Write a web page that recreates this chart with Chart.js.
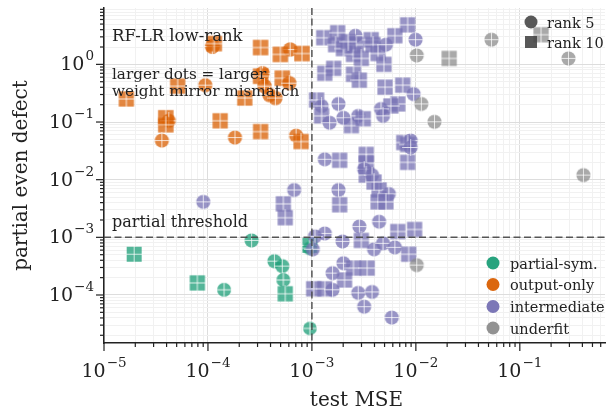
<!DOCTYPE html>
<html>
<head>
<meta charset="utf-8">
<script src="https://cdn.jsdelivr.net/npm/chart.js@4.4.1/dist/chart.umd.min.js"></script>
<style>
  html, body { margin: 0; padding: 0; background: #fff; }
  canvas { display: block; }
</style>
</head>
<body>
<canvas id="scatter-chart" width="613" height="413"></canvas>
<script>
// partial-sym.
const partialMse = [1.95e-5, 7.91e-5, 1.43e-4, 2.63e-4, 4.36e-4, 5.19e-4, 5.31e-4, 5.54e-4, 9.57e-4, 9.57e-4, 9.5e-4];
const partialDefect = [5.09e-4, 1.62e-4, 1.23e-4, 8.85e-4, 3.86e-4, 3.17e-4, 1.82e-4, 1.05e-4, 2.63e-5, 7.26e-4, 6.45e-4];
const partialRank = [10, 10, 5, 5, 5, 5, 5, 10, 5, 10, 5];
const partialMismatch = [0.4, 0.45, 0.4, 0.45, 0.45, 0.45, 0.4, 0.45, 0.35, 0.4, 0.35];

// output-only
const outputMse = [1.10e-4, 1.15e-4, 6.18e-4, 3.21e-4, 4.97e-4, 8.03e-4, 5.11e-5, 9.42e-5, 1.64e-5, 2.26e-4,
  3.35e-4, 3.21e-4, 3.50e-4, 5.19e-4, 6.05e-4, 3.91e-4, 4.45e-4, 3.93e-5, 4.20e-5, 3.93e-5,
  1.31e-4, 3.60e-5, 1.82e-4, 3.21e-4, 7.05e-4, 7.86e-4];
const outputDefect = [2.04, 2.29, 1.81, 1.96, 1.49, 1.54, 0.419, 0.436, 0.251, 0.261,
  0.701, 0.623, 0.419, 0.575, 0.472, 0.294, 0.261, 0.1186, 0.105, 0.0899,
  0.105, 0.0478, 0.0538, 0.0682, 0.0582, 0.0459];
const outputRank = [5, 10, 5, 10, 10, 10, 10, 5, 10, 10,
  5, 10, 5, 10, 5, 5, 5, 10, 5, 10,
  10, 5, 5, 10, 5, 10];
const outputMismatch = [0.6, 0.5, 0.5, 0.5, 0.5, 0.5, 0.45, 0.45, 0.45, 0.45,
  0.5, 0.5, 0.5, 0.5, 0.5, 0.5, 0.5, 0.5, 0.45, 0.5,
  0.45, 0.45, 0.45, 0.45, 0.45, 0.45];

// intermediate
const interMse = [1.30e-3, 1.77e-3, 1.69e-3, 2.01e-3, 2.62e-3, 2.67e-3, 2.51e-3, 2.99e-3, 3.72e-3, 3.88e-3,
  4.33e-3, 5.15e-3, 6.28e-3, 8.34e-3, 9.93e-3, 4.93e-3, 1.33e-3, 1.62e-3, 2.51e-3, 2.86e-3,
  5.05e-3, 7.48e-3, 9.51e-3, 6.70e-3, 5.75e-3, 4.62e-3, 1.11e-3, 1.24e-3, 1.80e-3, 1.24e-3,
  1.48e-3, 2.01e-3, 2.40e-3, 2.79e-3, 3.12e-3, 4.83e-3, 8.91e-3, 7.64e-3, 2.24e-3, 8.34e-3,
  8.34e-3, 8.91e-3, 1.33e-3, 1.85e-3, 3.33e-3, 3.33e-3, 3.18e-3, 3.33e-3, 3.79e-3, 4.43e-3,
  5.50e-3, 4.33e-3, 5.15e-3, 3.96e-3, 1.80e-3, 1.85e-3, 6.75e-4, 5.31e-4, 5.54e-4, 9.02e-5,
  2.86e-3, 4.43e-3, 6.70e-3, 9.73e-3, 1.33e-3, 1.07e-3, 1.97e-3, 2.99e-3, 3.96e-3, 4.83e-3,
  6.28e-3, 8.53e-3, 1.02e-3, 2.01e-3, 1.58e-3, 2.51e-3, 3.40e-3, 2.06e-3, 1.04e-3, 1.33e-3,
  1.58e-3, 2.79e-3, 3.79e-3, 3.18e-3, 5.87e-3];
const interDefect = [2.90, 3.54, 2.20, 1.88, 3.14, 2.20, 1.49, 1.27, 2.68, 2.20,
  1.54, 2.20, 3.14, 4.85, 2.68, 1.00, 0.701, 0.854, 0.673, 0.532,
  0.403, 0.436, 0.306, 0.206, 0.190, 0.169, 0.241, 0.190, 0.206, 0.128,
  0.0973, 0.1186, 0.0864, 0.128, 0.114, 0.128, 0.0478, 0.0441, 2.48, 0.0408,
  0.0200, 0.0362, 0.0226, 0.0217, 0.0275, 0.0193, 0.0152, 0.0120, 0.0120, 6.63e-3,
  5.66e-3, 4.13e-3, 4.13e-3, 9.1e-3, 6.63e-3, 3.67e-3, 6.63e-3, 3.81e-3, 2.19e-3, 4.13e-3,
  1.54e-3, 1.87e-3, 1.26e-3, 1.37e-3, 1.17e-3, 1.04e-3, 8.51e-4, 8.85e-4, 6.20e-4, 7.86e-4,
  6.71e-4, 5.09e-4, 6.20e-4, 3.57e-4, 2.40e-4, 2.93e-4, 2.93e-4, 1.82e-4, 1.28e-4, 1.28e-4,
  1.23e-4, 1.09e-4, 1.13e-4, 6.28e-5, 4.06e-5];
const interRank = [10, 10, 10, 10, 5, 10, 10, 10, 10, 10,
  10, 5, 10, 10, 5, 10, 10, 10, 10, 10,
  10, 10, 5, 10, 10, 5, 10, 5, 5, 10,
  5, 5, 10, 5, 10, 5, 5, 10, 10, 10,
  10, 5, 5, 10, 10, 10, 5, 10, 5, 10,
  5, 10, 10, 10, 5, 10, 5, 10, 10, 5,
  5, 5, 10, 10, 5, 5, 5, 10, 5, 5,
  5, 10, 5, 5, 5, 10, 10, 10, 10, 10,
  5, 5, 5, 5, 5];
const interMismatch = interMse.map(() => 0.45);

// underfit
const underMse = [0.0534, 0.160, 0.0102, 0.0209, 0.294, 0.0113, 0.0151, 0.409, 0.0102];
const underDefect = [2.68, 3.27, 1.43, 1.27, 1.27, 0.206, 0.101, 0.0120, 3.30e-4];
const underRank = [5, 10, 5, 10, 5, 5, 5, 5, 5];
const underMismatch = [0.45, 0.45, 0.45, 0.45, 0.45, 0.45, 0.45, 0.45, 0.45];

const partialThreshold = 1e-3;
const mseThreshold = 1e-3;

const SERIF = '"DejaVu Serif", serif';

const markerCache = {};
function marker(rank, rgb, m) {
  const key = rank + rgb.join() + m;
  if (markerCache[key]) return markerCache[key];
  const d = rank === 5 ? 12 + 5 * m : 13 + 5 * m;
  const s = Math.ceil(d) + 2;
  const c = document.createElement("canvas");
  c.width = s;
  c.height = s;
  const g = c.getContext("2d");
  const h = s / 2;
  g.beginPath();
  if (rank === 5) g.arc(h, h, d / 2, 0, Math.PI * 2);
  else g.rect(h - d / 2, h - d / 2, d, d);
  g.fillStyle = "rgba(" + rgb.join() + ",0.75)";
  g.fill();
  g.save();
  g.clip();
  g.strokeStyle = "rgba(255,255,255,0.35)";
  g.lineWidth = 1;
  g.beginPath();
  g.moveTo(h, 0); g.lineTo(h, s);
  g.moveTo(0, h); g.lineTo(s, h);
  g.stroke();
  g.restore();
  g.strokeStyle = "rgba(255,255,255,0.75)";
  g.lineWidth = 0.8;
  g.stroke();
  markerCache[key] = c;
  return c;
}

function points(mse, defect, rank, mis) {
  return mse.map((x, i) => ({ x: x, y: defect[i], rank: rank[i], m: mis[i] }));
}

const groups = [
  { label: "partial-sym.", rgb: [27, 158, 119], data: points(partialMse, partialDefect, partialRank, partialMismatch) },
  { label: "output-only", rgb: [217, 95, 2], data: points(outputMse, outputDefect, outputRank, outputMismatch) },
  { label: "intermediate", rgb: [117, 112, 179], data: points(interMse, interDefect, interRank, interMismatch) },
  { label: "underfit", rgb: [140, 140, 140], data: points(underMse, underDefect, underRank, underMismatch) },
];

function isDecade(v) {
  const l = Math.log10(v);
  return Math.abs(l - Math.round(l)) < 1e-6;
}
function isNice(v) {
  const p = Math.pow(10, Math.floor(Math.log10(v) + 1e-9));
  const sig = v / p;
  return Math.abs(sig - Math.round(sig)) < 1e-6;
}

function powLabel(ctx, e, x, y, align) {
  const base = "10";
  const exp = (e < 0 ? "\u2212" : "") + Math.abs(e);
  ctx.font = "19px " + SERIF;
  const wb = ctx.measureText(base).width;
  ctx.font = "13.5px " + SERIF;
  const we = ctx.measureText(exp).width;
  const total = wb + we + 1;
  const sx = align === "center" ? x - total / 2 : x - total;
  ctx.font = "19px " + SERIF;
  ctx.fillText(base, sx, y);
  ctx.font = "13.5px " + SERIF;
  ctx.fillText(exp, sx + wb + 1, y - 10);
}

const decor = {
  id: "decor",
  afterDatasetsDraw(chart) {
    const ctx = chart.ctx;
    const a = chart.chartArea;
    const xs = chart.scales.x, ys = chart.scales.y;
    ctx.save();
    ctx.beginPath();
    ctx.rect(a.left, a.top, a.right - a.left, a.bottom - a.top);
    ctx.clip();
    ctx.strokeStyle = "rgba(70,70,70,0.9)";
    ctx.lineWidth = 1.5;
    ctx.setLineDash([7, 3.5]);
    const px = xs.getPixelForValue(mseThreshold);
    const py = ys.getPixelForValue(partialThreshold);
    ctx.beginPath();
    ctx.moveTo(px, a.top); ctx.lineTo(px, a.bottom);
    ctx.moveTo(a.left, py); ctx.lineTo(a.right, py);
    ctx.stroke();
    ctx.restore();
  },
  afterDraw(chart) {
    const ctx = chart.ctx;
    const a = chart.chartArea;
    const xs = chart.scales.x, ys = chart.scales.y;
    ctx.save();
    ctx.strokeStyle = "#222";
    ctx.fillStyle = "#222";
    ctx.lineWidth = 1.2;
    // x ticks
    xs.ticks.forEach(t => {
      const p = xs.getPixelForValue(t.value);
      const major = isDecade(t.value);
      ctx.beginPath();
      ctx.moveTo(p, a.bottom); ctx.lineTo(p, a.bottom + (major ? 8 : 4));
      ctx.stroke();
      if (major) powLabel(ctx, Math.round(Math.log10(t.value)), p, a.bottom + 34, "center");
    });
    ys.ticks.forEach(t => {
      const p = ys.getPixelForValue(t.value);
      const major = isDecade(t.value);
      ctx.beginPath();
      ctx.moveTo(a.left, p); ctx.lineTo(a.left - (major ? 8 : 4), p);
      ctx.stroke();
      if (major) powLabel(ctx, Math.round(Math.log10(t.value)), a.left - 10, p + 6, "right");
    });
    // axis titles
    ctx.font = "20px " + SERIF;
    ctx.textAlign = "center";
    ctx.fillText("test MSE", (a.left + a.right) / 2 + 2, 406);
    ctx.save();
    ctx.translate(27, (a.top + a.bottom) / 2);
    ctx.rotate(-Math.PI / 2);
    ctx.fillText("partial even defect", 0, 0);
    ctx.restore();
    ctx.textAlign = "left";
    // annotations
    ctx.font = "16.5px " + SERIF;
    ctx.fillText("RF-LR low-rank", 112, 41);
    ctx.font = "15.2px " + SERIF;
    ctx.fillText("larger dots = larger", 112, 79);
    ctx.fillText("weight mirror mismatch", 112, 96);
    ctx.font = "16px " + SERIF;
    ctx.fillText("partial threshold", 112, 227);
    // rank legend
    ctx.fillStyle = "rgba(70,70,70,0.9)";
    ctx.beginPath();
    ctx.arc(531, 22, 6.5, 0, Math.PI * 2);
    ctx.fill();
    ctx.fillRect(525, 36, 12, 12);
    ctx.fillStyle = "#222";
    ctx.font = "14.5px " + SERIF;
    ctx.fillText("rank 5", 547, 27.5);
    ctx.fillText("rank 10", 547, 48);
    // class legend
    const ly = [263, 284.5, 306.5, 328];
    groups.forEach((gr, i) => {
      ctx.fillStyle = "rgba(" + gr.rgb.join() + ",0.95)";
      ctx.beginPath();
      ctx.arc(493, ly[i], 6.5, 0, Math.PI * 2);
      ctx.fill();
      ctx.fillStyle = "#222";
      ctx.fillText(gr.label, 510, ly[i] + 5.5);
    });
    ctx.restore();
  },
};

function gridColor(c) {
  if (!c.tick) return "#eee";
  return isDecade(c.tick.value) ? "#dddddd" : "#f1f1f1";
}

const axisBase = {
  type: "logarithmic",
  ticks: { display: false },
  grid: { color: gridColor, lineWidth: 1, drawTicks: false },
  border: { display: true, color: "#222", width: 1.5 },
  afterBuildTicks(scale) {
    scale.ticks = scale.ticks.filter(t => isNice(t.value));
  },
};

new Chart(document.getElementById("scatter-chart"), {
  type: "scatter",
  data: {
    datasets: groups.map((gr, i) => ({
      label: gr.label,
      data: gr.data,
      order: 4 - i,
      pointStyle: c => (c.raw ? marker(c.raw.rank, gr.rgb, c.raw.m) : "circle"),
      pointRadius: 7,
      pointHoverRadius: 7,
    })),
  },
  options: {
    responsive: false,
    animation: false,
    events: [],
    layout: { padding: { top: 4, right: 1, left: 0, bottom: 0 } },
    plugins: { legend: { display: false }, tooltip: { enabled: false } },
    scales: {
      x: Object.assign({}, axisBase, {
        min: 1e-5, max: 0.66,
        afterFit(s) { s.height = 70; },
      }),
      y: Object.assign({}, axisBase, {
        min: 1.47e-5, max: 9.5,
        afterFit(s) { s.width = 104; },
      }),
    },
  },
  plugins: [decor],
});
</script>
</body>
</html>
